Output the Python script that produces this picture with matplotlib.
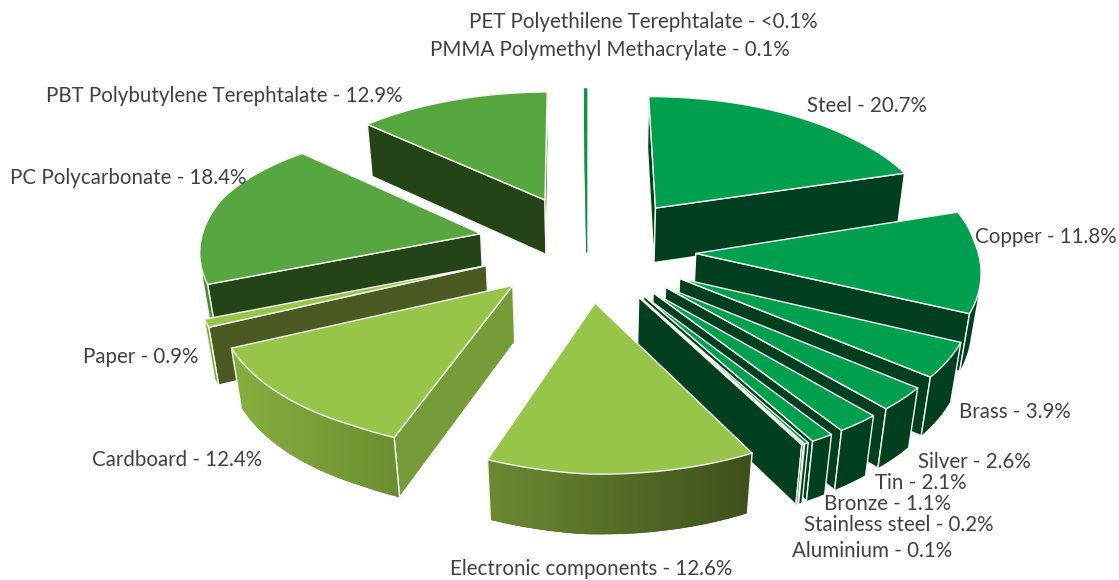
import numpy as np
import matplotlib
matplotlib.use("Agg")
import matplotlib.pyplot as plt
from matplotlib.patches import Polygon

categories = ["Steel", "Copper", "Brass", "Silver", "Tin", "Bronze", "Stainless steel", "Aluminium",
              "Electronic components", "Cardboard", "Paper", "PC Polycarbonate",
              "PBT Polybutylene Terephtalate", "PMMA Polymethyl Methacrylate", "PET Polyethilene Terephtalate"]
values = [20.7, 11.8, 3.9, 2.6, 2.1, 1.1, 0.2, 0.1, 12.6, 12.4, 0.9, 18.4, 12.9, 0.1, 0.05]
value_labels = ["20.7%", "11.8%", "3.9%", "2.6%", "2.1%", "1.1%", "0.2%", "0.1%", "12.6%", "12.4%",
                "0.9%", "18.4%", "12.9%", "0.1%", "<0.1%"]

# colour groups: top, cut face, arc colour at start angle, arc colour at end angle
METAL = ("#00a04f", "#003f20", "#003f20", "#003f20")
ELEC = ("#96c549", "#3f4f1c", "#3f4f1c", "#6b8a32")
CARD = ("#96c549", "#759c38", "#6a8e31", "#88b040")
PAPER = ("#96c549", "#4a5a22", "#78a83a", "#78a83a")
PLAST = ("#57a63f", "#244417", "#3f8f32", "#3f8f32")
THIN = ("#0f9048", "#0f9048", "#0f9048", "#0f9048")
styles = [METAL] * 8 + [ELEC, CARD, PAPER, PLAST, PLAST, THIN, THIN]

# label anchors (pixels, left edge / vertical centre)
label_xy = [(807, 106), (975, 237), (959, 412), (918, 462), (875, 483), (824, 504), (804, 525), (792, 551),
            (450, 569), (92, 460), (83, 357), (10, 178), (46, 96), (430, 50), (469, 22)]

CX, CY = 587.0, 248.0
A, B, K = 279.0, 134.5, 0.125
EXPLODE = 0.39
HEIGHT = 57.0
SHRINK = 0.025


def project(x, y, bottom=False):
    x, y = np.asarray(x, float), np.asarray(y, float)
    w = 1 + K * y + (SHRINK if bottom else 0.0)
    # small corrections to the plain perspective, fitted to the reference's projection
    skew_x = np.where(x > 0, 8.0, 3.0) * x * np.minimum(y, 0) ** 2
    skew_x = skew_x + 5.0 * np.clip(y / 0.3, 0, 1) * np.clip(x / 0.2, 0, 1)
    fade = np.clip((0.9 - y) / 0.6, 0, 1)
    rise = np.where(x > 0, 5.0 * x ** 2 - 2.0 * x, 10.0 * np.clip(-x / 0.7, 0, 1))
    sx = CX + A * x / w + skew_x
    sy = CY - B * y / w + (HEIGHT / w if bottom else 0.0) - fade * rise
    return np.column_stack([sx, sy])


def area(p):
    x, y = p[:, 0], p[:, 1]
    return 0.5 * np.sum(x * np.roll(y, -1) - np.roll(x, -1) * y)


def rgb(c):
    return np.array(matplotlib.colors.to_rgb(c))


fig = plt.figure(figsize=(11.19, 5.80), dpi=100)
ax = fig.add_axes([0, 0, 1, 1])

vals = np.array(values, float)
fr = vals / vals.sum() * 360.0
ends = np.cumsum(fr)
starts = ends - fr
mids = np.radians((starts + ends) / 2)
order = np.argsort(-(np.cos(mids)))  # back to front

EDGE = "#f4f7f0"
for rank, i in enumerate(order):
    z = 3 + rank
    top, cut, arc0, arc1 = styles[i]
    thin = styles[i] is THIN
    ec = top if thin else EDGE
    lw = 0.4 if thin else 1.0
    a = np.radians(np.linspace(starts[i], ends[i], max(3, int(fr[i] * 2) + 2)))
    ox, oy = EXPLODE * np.sin(mids[i]), EXPLODE * np.cos(mids[i])
    ax_, ay_ = ox + np.sin(a), oy + np.cos(a)
    apex_t = project([ox], [oy])
    apex_b = project([ox], [oy], True)
    arc_t = project(ax_, ay_)
    arc_b = project(ax_, ay_, True)

    # radial cut faces
    for arc_idx, sign in ((0, 1), (-1, -1)):
        face = np.vstack([apex_t, arc_t[arc_idx], arc_b[arc_idx], apex_b])
        if sign * area(face) < 0 or thin:
            ax.add_patch(Polygon(face, closed=True, fc=cut, ec=ec, lw=lw, zorder=z))

    # outer rim: contiguous front-facing run, horizontal gradient across it
    n = len(a) - 1
    vis = [j for j in range(n)
           if area(np.vstack([arc_t[j], arc_t[j + 1], arc_b[j + 1], arc_b[j]])) < 0]
    if vis:
        i0, i1 = vis[0], vis[-1] + 1
        rim = np.vstack([arc_t[i0:i1 + 1], arc_b[i0:i1 + 1][::-1]])
        patch = Polygon(rim, closed=True, fc=arc0, ec="none", zorder=z)
        ax.add_patch(patch)
        if arc0 != arc1:
            x0, x1 = rim[:, 0].min(), rim[:, 0].max()
            y0, y1 = rim[:, 1].min(), rim[:, 1].max()
            t = np.linspace(0, 1, 256)[None, :, None]
            img = rgb(arc1)[None, None, :] * (1 - t) + rgb(arc0)[None, None, :] * t
            im = ax.imshow(img, extent=(x0, x1, y1, y0), aspect="auto", zorder=z, interpolation="bilinear")
            im.set_clip_path(patch)
        if i0 == 0:
            ax.plot([arc_t[0, 0], arc_b[0, 0]], [arc_t[0, 1], arc_b[0, 1]], color=ec, lw=lw, zorder=z)
        if i1 == n:
            ax.plot([arc_t[n, 0], arc_b[n, 0]], [arc_t[n, 1], arc_b[n, 1]], color=ec, lw=lw, zorder=z)

    ax.add_patch(Polygon(np.vstack([apex_t, arc_t]), closed=True, fc=top, ec=ec, lw=lw, zorder=z))

ax.set_xlim(0, 1119)
ax.set_ylim(580, 0)
ax.axis("off")

for name, lab, (x, y) in zip(categories, value_labels, label_xy):
    ax.text(x, y, f"{name} - {lab}", fontsize=14.8, family="Lato", color="#404040",
            ha="left", va="center", zorder=100)

fig.savefig("out.png", dpi=100)
